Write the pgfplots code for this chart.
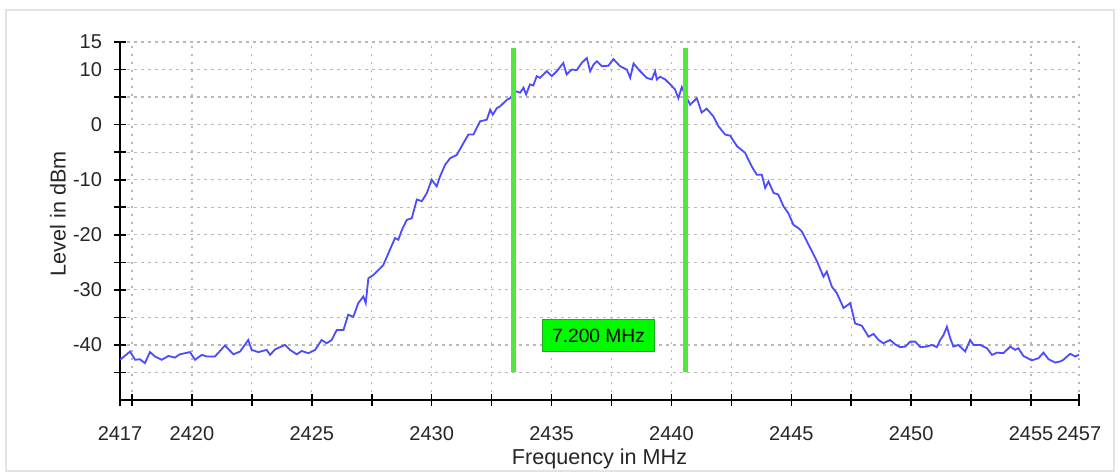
\documentclass[border=0pt]{standalone}
\usepackage{fontspec}
\setmainfont{Liberation Sans}
\usepackage{pgfplots}
\pgfplotsset{compat=1.18}
\definecolor{trace}{RGB}{75,75,255}
\definecolor{mgreen}{RGB}{80,232,60}
\definecolor{boxgreen}{RGB}{0,250,0}
\definecolor{boxedge}{RGB}{30,170,30}
\definecolor{gridc}{RGB}{185,185,185}
\begin{document}
\begin{tikzpicture}
\useasboundingbox (-60pt,-36.5pt) rectangle (500pt,200pt);
\draw[gray!22, line width=1pt] (-57pt,-35.5pt) rectangle (497pt,195pt);
\begin{axis}[
  at={(0,0)}, anchor=south west,
  scale only axis, width=479.5pt, height=179pt,
  xmin=2417, xmax=2457, ymin=-50, ymax=15,
  axis lines=left,
  axis line style={-, line width=1pt, black},
  tick style={black, line width=0.8pt},
  major tick length=6pt, tick align=center,
  xtick={2417,2417.5,2420,2422.5,2425,2427.5,2430,2432.5,2435,2437.5,2440,2442.5,2445,2447.5,2450,2452.5,2455,2457},
  xticklabels={2417,,2420,,2425,,2430,,2435,,2440,,2445,,2450,,2455,2457},
  ytick={-45,-40,-35,-30,-25,-20,-15,-10,-5,0,5,10,15},
  yticklabels={,-40,,-30,,-20,,-10,,0,,10,15},
  tick label style={font=\fontsize{10}{12}\selectfont, color=black!85},
  xticklabel style={yshift=-6.5pt},
  yticklabel style={xshift=-2.5pt},
  grid=major,
  x grid style={gridc, line width=0.6pt, dash pattern=on 0.8pt off 3.2pt},
  y grid style={gridc, line width=0.6pt, dash pattern=on 1.6pt off 1.9pt},
  xlabel={Frequency in MHz},
  ylabel={Level in dBm},
  label style={font=\fontsize{10.8}{13}\selectfont, color=black!85},
  xlabel style={at={(axis description cs:0.5,0)}, anchor=center, yshift=-29.5pt},
  ylabel style={at={(axis description cs:0,0.52)}, anchor=center, yshift=31pt},
]
\addplot[trace, line width=0.9pt] coordinates {
(2417.00,-42.7) (2417.42,-41.2) (2417.63,-42.7) (2417.83,-42.6) (2418.04,-43.3)
(2418.25,-41.3) (2418.46,-42.1) (2418.74,-42.7) (2419.02,-42.0) (2419.29,-42.3)
(2419.50,-41.7) (2419.92,-41.3) (2420.13,-42.7) (2420.41,-41.8) (2420.62,-42.1)
(2420.96,-42.1) (2421.38,-40.1) (2421.73,-41.7) (2422.01,-41.2) (2422.35,-39.1)
(2422.49,-40.9) (2422.77,-41.3) (2423.12,-40.9) (2423.26,-41.8) (2423.47,-40.8)
(2423.88,-40.0) (2424.09,-40.9) (2424.37,-41.7) (2424.58,-41.1) (2424.86,-41.5)
(2425.14,-40.9) (2425.41,-39.1) (2425.62,-39.7) (2425.83,-39.1) (2426.04,-37.3)
(2426.32,-37.3) (2426.52,-34.5) (2426.73,-34.9) (2426.94,-32.4) (2427.15,-31.2)
(2427.25,-32.4) (2427.36,-27.9) (2427.57,-27.3) (2427.98,-25.5) (2428.26,-22.7)
(2428.47,-20.6) (2428.61,-20.9) (2428.75,-19.2) (2428.96,-17.3) (2429.17,-17.0)
(2429.38,-13.6) (2429.59,-13.9) (2429.80,-12.4) (2430.00,-10.0) (2430.21,-11.2)
(2430.35,-9.4) (2430.56,-7.3) (2430.77,-6.1) (2431.05,-5.5) (2431.33,-3.3)
(2431.53,-1.8) (2431.74,-1.8) (2432.02,0.6) (2432.30,0.9) (2432.44,2.7)
(2432.55,1.8) (2432.72,3.0) (2432.85,3.3) (2433.13,4.5) (2433.27,4.8)
(2433.48,6.1) (2433.69,5.8) (2433.83,6.7) (2433.94,5.5) (2434.10,7.3)
(2434.24,7.1) (2434.38,8.8) (2434.52,8.5) (2434.80,9.7) (2435.01,8.8)
(2435.22,9.7) (2435.49,11.2) (2435.63,9.1) (2435.84,10.0) (2436.05,9.9)
(2436.26,11.2) (2436.47,12.1) (2436.61,9.7) (2436.75,10.9) (2436.89,11.5)
(2437.10,10.6) (2437.37,10.7) (2437.58,11.9) (2437.86,10.6) (2438.14,10.0)
(2438.28,8.5) (2438.42,11.1) (2438.63,10.0) (2438.97,8.5) (2439.18,8.2)
(2439.32,9.7) (2439.39,8.2) (2439.53,8.7) (2439.74,8.2) (2439.95,7.3)
(2440.15,6.4) (2440.29,4.8) (2440.43,6.8) (2440.78,3.6) (2441.06,4.8)
(2441.26,2.2) (2441.47,2.9) (2441.75,1.5) (2441.96,-0.3) (2442.24,-1.8)
(2442.45,-2.0) (2442.73,-3.9) (2443.07,-5.1) (2443.35,-7.6) (2443.56,-9.1)
(2443.77,-9.1) (2443.91,-11.5) (2444.05,-10.3) (2444.26,-12.4) (2444.46,-12.7)
(2444.67,-14.8) (2444.88,-16.1) (2445.09,-18.2) (2445.30,-18.8) (2445.44,-19.4)
(2445.79,-22.4) (2446.07,-24.8) (2446.34,-27.6) (2446.48,-26.7) (2446.69,-29.4)
(2446.90,-30.6) (2447.18,-33.3) (2447.46,-32.4) (2447.66,-36.1) (2447.94,-36.5)
(2448.22,-38.5) (2448.43,-38.0) (2448.64,-39.1) (2448.84,-39.7) (2449.12,-39.1)
(2449.33,-39.9) (2449.54,-40.4) (2449.75,-40.3) (2449.96,-39.4) (2450.17,-39.4)
(2450.38,-40.4) (2450.65,-40.3) (2450.86,-40.0) (2451.07,-40.4) (2451.21,-39.1)
(2451.35,-38.2) (2451.49,-36.7) (2451.63,-38.8) (2451.76,-40.3) (2451.97,-40.0)
(2452.25,-41.2) (2452.46,-39.1) (2452.60,-40.0) (2452.88,-40.0) (2453.16,-40.6)
(2453.37,-41.8) (2453.58,-41.4) (2453.85,-41.5) (2454.13,-40.3) (2454.34,-40.9)
(2454.47,-40.6) (2454.68,-42.0) (2455.03,-42.8) (2455.31,-42.4) (2455.52,-41.4)
(2455.73,-42.6) (2456.01,-43.2) (2456.22,-43.0) (2456.35,-42.7) (2456.63,-41.6)
(2456.84,-42.1) (2457.00,-41.8)
};
\addplot[mgreen, line width=2.5pt] coordinates {(2433.4,14) (2433.4,-45)};
\addplot[mgreen, line width=2.5pt] coordinates {(2440.6,14) (2440.6,-45)};
\node[fill=boxgreen, draw=boxedge, line width=0.5pt, minimum width=56pt, minimum height=16pt, inner sep=0pt, font=\fontsize{9.6}{11}\selectfont] at (axis cs:2436.96,-38.3) {7.200 MHz};
\end{axis}
\end{tikzpicture}
\end{document}
